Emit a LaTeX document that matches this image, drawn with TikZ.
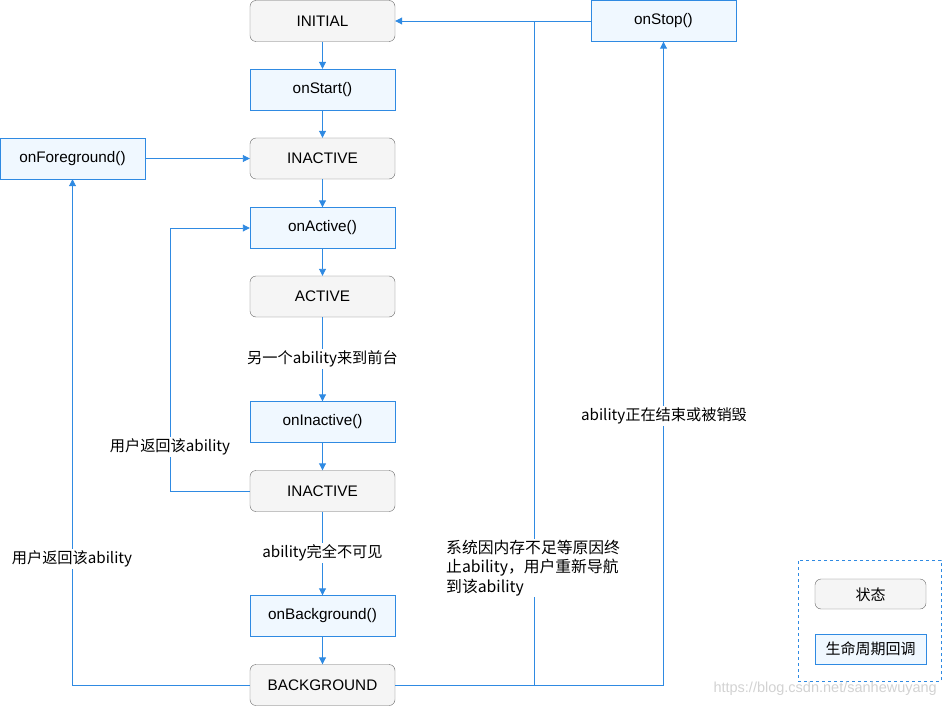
\documentclass[tikz,border=0pt]{standalone}
\usepackage{fontspec}
\setmainfont{Liberation Sans}
\newfontfamily\cjk{Noto Sans CJK SC}
\usetikzlibrary{arrows.meta}
\definecolor{lblue}{RGB}{47,138,226}
\definecolor{cbfill}{RGB}{240,248,255}
\definecolor{stfill}{RGB}{245,245,245}
\definecolor{stdraw}{RGB}{102,102,102}
\tikzset{
  state/.style={draw=stdraw, fill=stfill, rounded corners=6pt, minimum width=145pt, minimum height=41pt, inner sep=0pt, text depth=0pt, font=\fontsize{15.3}{18}\selectfont},
  callback/.style={draw=lblue, fill=cbfill, minimum width=145pt, minimum height=41pt, inner sep=0pt, font=\fontsize{15.3}{18}\selectfont},
  arr/.style={draw=lblue, line width=0.9pt, -{Triangle[width=7pt,length=7pt]}},
  ln/.style={draw=lblue, line width=0.9pt},
  lbl/.style={fill=white, font=\cjk\fontsize{15.2}{19}\selectfont, inner sep=2pt},
}
\begin{document}
\begin{tikzpicture}[x=1pt,y=-1pt]
\useasboundingbox (0,0) rectangle (942,706);
% nodes
\node[state] (initial) at (322.5,21) {INITIAL};
\node[callback] (onstart) at (322.5,89.5) {onStart()};
\node[callback] (onfg) at (72.5,158.5) {onForeground()};
\node[state] (inactive) at (322.5,158.5) {INACTIVE};
\node[callback] (onactive) at (322.5,228) {onActive()};
\node[state] (active) at (322.5,296.5) {ACTIVE};
\node[callback] (oninactive) at (322.5,422) {onInactive()};
\node[state] (inactive2) at (322.5,491) {INACTIVE};
\node[callback] (onbg) at (322.5,616) {onBackground()};
\node[state] (bg) at (322.5,685) {BACKGROUND};
\node[callback] (onstop) at (663.5,21) {onStop()};
% coordinates
\coordinate (j1) at (534,21);
\coordinate (j1b) at (534,685);
\coordinate (ra) at (170,491);
\coordinate (rb) at (170,228);
% main chain
\draw[arr] (initial) -- (onstart);
\draw[arr] (onstart) -- (inactive);
\draw[arr] (onfg) -- (inactive);
\draw[arr] (inactive) -- (onactive);
\draw[arr] (onactive) -- (active);
\draw[arr] (active) -- (oninactive);
\draw[arr] (oninactive) -- (inactive2);
\draw[arr] (inactive2) -- (onbg);
\draw[arr] (onbg) -- (bg);
% onStop to INITIAL
\draw[arr] (onstop) -- (initial);
% BACKGROUND back to INITIAL via j1
\draw[ln] (bg.east) -- (j1b) -- (j1);
% BACKGROUND to onStop
\draw[arr] (bg.east) -| (onstop.south);
% BACKGROUND to onForeground
\draw[arr] (bg.west) -| (onfg.south);
% INACTIVE2 back to onActive
\draw[arr] (inactive2.west) -- (ra) -- (rb) -- (onactive.west);
% labels
\node[lbl] (l1) at (322.5,359) {另一个ability来到前台};
\node[lbl] (l2) at (322.5,553) {ability完全不可见};
\node[lbl] (l3) at (170,447) {用户返回该ability};
\node[lbl] (l4) at (72,559) {用户返回该ability};
\node[lbl] (l5) at (664,416) {ability正在结束或被销毁};
\node[lbl, align=left, anchor=west, inner sep=1pt, font=\cjk\fontsize{15.8}{19.5}\selectfont] (l6) at (445,568) {系统因内存不足等原因终\\止ability，用户重新导航\\到该ability};
% legend
\node[draw=lblue, dash pattern=on 3pt off 3pt, minimum width=143pt, minimum height=121pt, inner sep=0pt] (legend) at (869.5,620.5) {};
\node[state, minimum width=111pt, minimum height=30pt, font=\cjk\fontsize{15}{17}\selectfont] (lgs) at (870.5,594) {状态};
\node[callback, minimum width=111pt, minimum height=30pt, font=\cjk\fontsize{15}{17}\selectfont] (lgc) at (870.5,649) {生命周期回调};
% watermark
\node[text=gray!35, font=\fontsize{14.5}{17}\selectfont, anchor=east, inner sep=0pt] (wm) at (937,689) {https://blog.csdn.net/sanhewuyang};
\end{tikzpicture}
\end{document}
